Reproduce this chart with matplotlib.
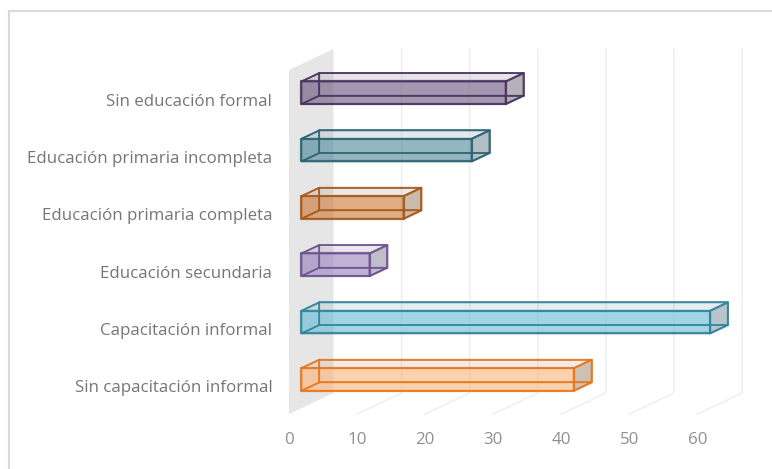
import matplotlib
matplotlib.use("Agg")
import matplotlib.pyplot as plt
from matplotlib.patches import Polygon, Rectangle
from matplotlib.transforms import ScaledTranslation

categories = ["Sin capacitación informal", "Capacitación informal", "Educación secundaria",
              "Educación primaria completa", "Educación primaria incompleta", "Sin educación formal"]
values = [40, 60, 10, 15, 25, 30]
edge_colors = ["#E8761B", "#31849B", "#6C5390", "#A5591A", "#2B6373", "#47345E"]
face_colors = ["#FBB47A", "#68BDD6", "#9B82BE", "#CC7A3A", "#4F8A9B", "#6E5780"]
side_colors = ["#AD9C8E", "#8FA3AC", "#A09AAA", "#A8957F", "#8A9CA4", "#8A8790"]
value_ticks = [0, 10, 20, 30, 40, 50, 60]

W, H = 772, 469
PX_PER_UNIT = 6.81
PX_PER_CAT = 57.33
DEPTH_X = 44.5 / PX_PER_UNIT
DEPTH_Y = 21 / PX_PER_CAT
BAR_FRONT, BAR_BACK = 0.28, 0.68
BAR_HEIGHT = 0.395

plt.rcParams["font.family"] = ["Open Sans", "DejaVu Sans"]
fig = plt.figure(figsize=(W / 100, H / 100), dpi=100)

# Chart frame runs off the right and bottom of the canvas
fig.add_artist(Rectangle((9 / W, -10 / H), 800 / W, (H - 11 + 10) / H, transform=fig.transFigure,
                         fill=False, ec="#D9D9D9", lw=1.5))

x_max = 65.0
ax = fig.add_axes([289 / W, (H - 414) / H, x_max * PX_PER_UNIT / W, 344 / H])
ax.set_xlim(0, x_max)
ax.set_ylim(-0.5, 5.5)
ax.patch.set_alpha(0)
for s in ax.spines.values():
    s.set_visible(False)


def sheared(x, y, depth):
    """Project a point on the front plane to a given depth of the 3D box."""
    return (x + depth * DEPTH_X, y + depth * DEPTH_Y)


# Side wall at zero and the receding gridlines
ax.add_patch(Polygon([sheared(0, -0.5, 0), sheared(0, -0.5, 1), sheared(0, 5.5, 1), sheared(0, 5.5, 0)],
                     closed=True, fc="#E6E6E6", ec="none", zorder=1, clip_on=False))
for v in value_ticks[1:]:
    pts = [sheared(v, -0.5, 0), sheared(v, -0.5, 1), sheared(v, 5.5, 1)]
    ax.plot(*zip(*pts), color="#EFEFEF", lw=1.1, zorder=1, clip_on=False)


def box_face(x0, x1, y0, y1, d0, d1, kind):
    if kind == "front":
        return [sheared(x0, y0, d0), sheared(x1, y0, d0), sheared(x1, y1, d0), sheared(x0, y1, d0)]
    if kind == "back":
        return [sheared(x0, y0, d1), sheared(x1, y0, d1), sheared(x1, y1, d1), sheared(x0, y1, d1)]
    if kind == "top":
        return [sheared(x0, y1, d0), sheared(x1, y1, d0), sheared(x1, y1, d1), sheared(x0, y1, d1)]
    if kind == "bottom":
        return [sheared(x0, y0, d0), sheared(x1, y0, d0), sheared(x1, y0, d1), sheared(x0, y0, d1)]
    if kind == "left":
        return [sheared(x0, y0, d0), sheared(x0, y0, d1), sheared(x0, y1, d1), sheared(x0, y1, d0)]
    return [sheared(x1, y0, d0), sheared(x1, y0, d1), sheared(x1, y1, d1), sheared(x1, y1, d0)]


for i, v in enumerate(values):
    y0, y1 = i - BAR_HEIGHT / 2, i + BAR_HEIGHT / 2
    ec, fc, sc = edge_colors[i], face_colors[i], side_colors[i]
    z = 3 + (5 - i) * 0.01
    styles = [("back", fc, 0.08), ("bottom", fc, 0.08), ("left", fc, 0.15),
              ("top", "#B8B8C0", 0.2), ("right", sc, 0.6), ("front", fc, 0.58)]
    for kind, color, alpha in styles:
        ax.add_patch(Polygon(box_face(0, v, y0, y1, BAR_FRONT, BAR_BACK, kind), closed=True,
                             fc=color, alpha=alpha, ec="none", zorder=z, clip_on=False))
    for kind, lw in [("back", 1.2), ("bottom", 1.2), ("left", 1.2), ("top", 1.3), ("right", 1.5), ("front", 1.6)]:
        ax.add_patch(Polygon(box_face(0, v, y0, y1, BAR_FRONT, BAR_BACK, kind), closed=True,
                             fill=False, ec=ec, lw=lw, alpha=0.8, zorder=z + 0.001,
                             joinstyle="round", clip_on=False))

ax.set_xticks(value_ticks)
ax.set_yticks(range(len(categories)))
ax.set_yticklabels(categories)
ax.tick_params(axis="x", length=0, pad=13, labelsize=12.2, labelcolor="#909090")
ax.tick_params(axis="y", length=0, pad=12, labelsize=12.2, labelcolor="#767676")

# Nudge the category labels slightly below the band centres
nudge = ScaledTranslation(0, -1 / 100, fig.dpi_scale_trans)
for lab in ax.get_yticklabels():
    lab.set_transform(lab.get_transform() + nudge)

fig.savefig("out.png", dpi=100)
